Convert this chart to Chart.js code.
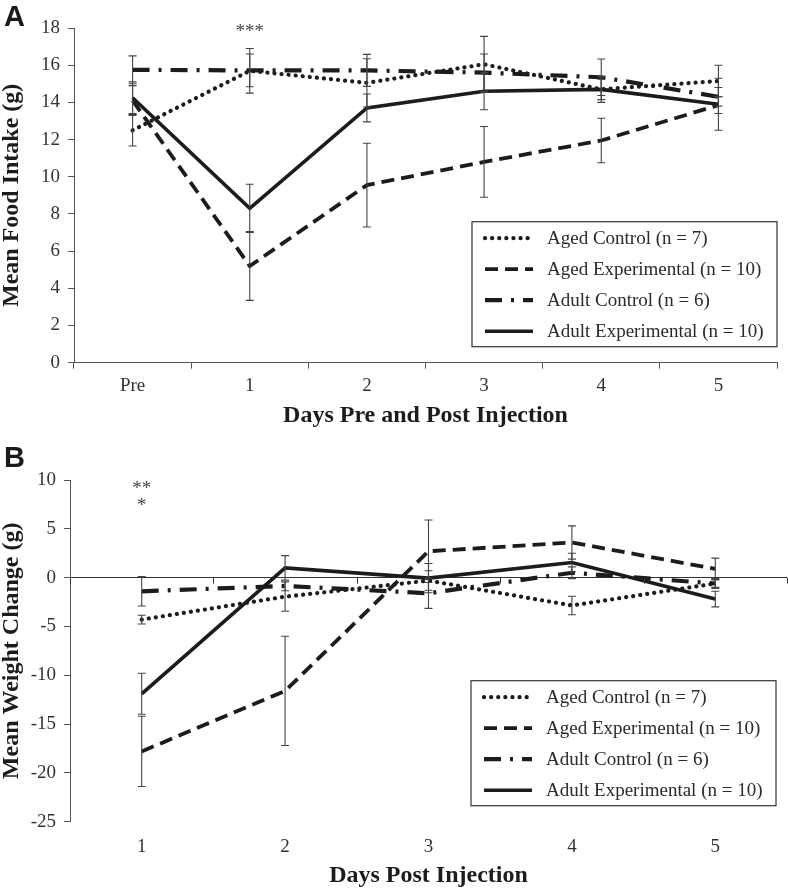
<!DOCTYPE html>
<html>
<head>
<meta charset="utf-8">
<script src="https://cdn.jsdelivr.net/npm/chart.js@4.4.0/dist/chart.umd.min.js"></script>
<style>
	body { margin: 0; background: #fff; }
	#wrap { position: relative; width: 788px; height: 888px; }
	.panel-letter { position: absolute; left: 4px; font: bold 29px 'Liberation Sans', Arial, sans-serif; color: #1a1a1a; line-height: 1; }
	#chart-a { position: absolute; left: 0; top: 0; }
	#chart-b { position: absolute; left: 0; top: 440px; }
</style>
</head>
<body>
<div id="wrap">
	<canvas id="chart-a" width="788" height="430"></canvas>
	<canvas id="chart-b" width="788" height="448"></canvas>
	<div class="panel-letter" style="top:2px">A</div>
	<div class="panel-letter" style="top:443px">B</div>
</div>
<script>
/* ----- Data ----- */

// Panel A - food intake
const daysA = ['Pre', '1', '2', '3', '4', '5'];
const agedControlA = [12.5, 15.7, 15.05, 16.05, 14.7, 15.15];
const agedExpA = [14.1, 5.2, 9.55, 10.8, 11.95, 13.85];
const adultControlA = [15.75, 15.72, 15.72, 15.6, 15.35, 14.3];
const adultExpA = [14.25, 8.3, 13.7, 14.6, 14.7, 13.9];
const agedControlErrA = [0.85, 1.2, 1.3, 1.5, 0.55, 0.85];
const agedExpErrA = [0.8, 1.85, 2.25, 1.9, 1.2, 0.45];
const adultControlErrA = [0.75, 0.88, 0.86, 1.0, 0.98, 0.5];
const adultExpErrA = [0.85, 1.3, 0.75, 1.0, 0.7, 1.4];
const starsA = [{ day: '1', value: 17.8, text: '***' }];

// Panel B - weight change
const daysB = ['1', '2', '3', '4', '5'];
const agedControlB = [-4.3, -1.95, -0.3, -2.85, -0.6];
const agedExpB = [-17.8, -11.6, 2.7, 3.6, 0.9];
const adultControlB = [-1.4, -0.85, -1.6, 0.5, -0.6];
const adultExpB = [-11.9, 1.0, -0.05, 1.55, -2.2];
const agedControlErrB = [0.45, 1.5, 1.0, 0.95, 0.4];
const agedExpErrB = [3.6, 5.6, 3.2, 1.7, 1.1];
const adultControlErrB = [1.5, 0.5, 1.55, 0.6, 0.5];
const adultExpErrB = [2.1, 1.25, 1.5, 0.95, 0.8];
const starsB = [{ day: '1', value: 9.1, text: '**' }, { day: '1', value: 7.3, text: '*' }];

const seriesNames = ['Aged Control (n = 7)', 'Aged Experimental (n = 10)', 'Adult Control (n = 6)', 'Adult Experimental (n = 10)'];

/* ----- Styles ----- */

const serif = "'Liberation Serif', 'Times New Roman', serif";
const ink = '#1c1c1c';
const axisGrey = '#555';

const lineStyles = [
	{ borderWidth: 4.2, borderDash: [0.1, 7], borderCapStyle: 'round' },
	{ borderWidth: 3.8, borderDash: [13, 7], borderCapStyle: 'butt' },
	{ borderWidth: 4.2, borderDash: [17, 9, 3, 9], borderCapStyle: 'butt' },
	{ borderWidth: 3.6, borderDash: [], borderCapStyle: 'butt' }
];

const makeDatasets = (values, errors) => values.map((data, i) => ({
	label: seriesNames[i],
	data: data,
	errors: errors[i],
	borderColor: ink,
	backgroundColor: ink,
	pointRadius: 0,
	tension: 0,
	...lineStyles[i]
}));

/* ----- Plugins ----- */

// Error bars with caps
const errorBars = {
	id: 'errorBars',
	afterDatasetsDraw(chart) {
		const { ctx, scales: { x, y } } = chart;
		ctx.save();
		ctx.strokeStyle = '#444';
		ctx.lineWidth = 1.1;
		chart.data.datasets.forEach(ds => {
			ds.data.forEach((v, i) => {
				const px = x.getPixelForValue(i);
				const top = y.getPixelForValue(v + ds.errors[i]);
				const bot = y.getPixelForValue(v - ds.errors[i]);
				ctx.beginPath();
				ctx.moveTo(px, top); ctx.lineTo(px, bot);
				ctx.moveTo(px - 4, top); ctx.lineTo(px + 4, top);
				ctx.moveTo(px - 4, bot); ctx.lineTo(px + 4, bot);
				ctx.stroke();
			});
		});
		ctx.restore();
	}
};

// Boxed legend inside the plot area
const boxLegend = {
	id: 'boxLegend',
	afterDraw(chart, args, opts) {
		const { ctx, chartArea } = chart;
		const x0 = chartArea.right - opts.right - opts.width;
		const y0 = chartArea.bottom - opts.bottom - opts.height;
		ctx.save();
		ctx.fillStyle = '#fff';
		ctx.fillRect(x0, y0, opts.width, opts.height);
		ctx.strokeStyle = '#333';
		ctx.lineWidth = 1.2;
		ctx.strokeRect(x0, y0, opts.width, opts.height);
		chart.data.datasets.forEach((ds, i) => {
			const ly = y0 + 16.5 + i * 31;
			ctx.beginPath();
			ctx.setLineDash(ds.borderDash);
			ctx.lineCap = ds.borderCapStyle;
			ctx.lineWidth = ds.borderWidth;
			ctx.strokeStyle = ds.borderColor;
			ctx.moveTo(x0 + 13, ly);
			ctx.lineTo(x0 + 61, ly);
			ctx.stroke();
			ctx.setLineDash([]);
			ctx.fillStyle = '#2a2a2a';
			ctx.font = '19px ' + serif;
			ctx.textBaseline = 'middle';
			ctx.textAlign = 'left';
			ctx.fillText(ds.label, x0 + 75, ly + 1);
		});
		ctx.restore();
	}
};

// Significance stars
const stars = {
	id: 'stars',
	afterDraw(chart, args, opts) {
		const { ctx, scales: { x, y } } = chart;
		ctx.save();
		ctx.fillStyle = '#444';
		ctx.font = '19px ' + serif;
		ctx.textAlign = 'center';
		ctx.textBaseline = 'middle';
		opts.items.forEach(s => ctx.fillText(s.text, x.getPixelForValue(x.getLabels().indexOf(s.day)), y.getPixelForValue(s.value)));
		ctx.restore();
	}
};

// Category tick marks on the zero line
const zeroTicks = {
	id: 'zeroTicks',
	afterDraw(chart, args, opts) {
		if (!opts.show) return;
		const { ctx, scales: { x, y } } = chart;
		const y0 = y.getPixelForValue(0);
		ctx.save();
		ctx.strokeStyle = '#333';
		ctx.lineWidth = 1;
		for (let i = 0; i <= x.getLabels().length; i++) {
			const px = Math.round(x.getPixelForValue(i - 0.5)) + 0.5;
			ctx.beginPath();
			ctx.moveTo(px, y0);
			ctx.lineTo(px, y0 + 6);
			ctx.stroke();
		}
		ctx.restore();
	}
};

/* ----- Charts ----- */

const tickFont = { family: serif, size: 19 };
const titleFont = { family: serif, size: 24, weight: 'bold', lineHeight: 1 };

const charts = [];

// Chart A
charts[0] = new Chart(document.getElementById('chart-a'), {
	type: 'line',
	data: {
		labels: daysA,
		datasets: makeDatasets([agedControlA, agedExpA, adultControlA, adultExpA], [agedControlErrA, agedExpErrA, adultControlErrA, adultExpErrA])
	},
	options: {
		responsive: false,
		animation: false,
		events: [],
		layout: { padding: { top: 28, right: 11, bottom: 2, left: 0 } },
		plugins: {
			legend: { display: false },
			tooltip: { enabled: false },
			boxLegend: { right: 0, bottom: 16, width: 305, height: 125 },
			stars: { items: starsA },
			zeroTicks: { show: false }
		},
		scales: {
			x: {
				offset: true,
				grid: { offset: true, drawOnChartArea: false, tickLength: 6, color: axisGrey },
				border: { color: axisGrey },
				ticks: { font: tickFont, color: '#333', padding: 6, maxRotation: 0 },
				title: { display: true, text: 'Days Pre and Post Injection', font: titleFont, color: ink, padding: 0 },
				afterFit: s => { s.height = 65.3; }
			},
			y: {
				min: 0,
				max: 18,
				ticks: { stepSize: 2, font: tickFont, color: '#333', padding: 8 },
				grid: { drawOnChartArea: false, tickLength: 6, color: axisGrey },
				border: { color: axisGrey },
				title: { display: true, text: 'Mean Food Intake (g)', font: titleFont, color: ink, padding: 0 },
				afterFit: s => { s.width = 74; }
			}
		}
	},
	plugins: [errorBars, boxLegend, stars, zeroTicks]
});

// Chart B
charts[1] = new Chart(document.getElementById('chart-b'), {
	type: 'line',
	data: {
		labels: daysB,
		datasets: makeDatasets([agedControlB, agedExpB, adultControlB, adultExpB], [agedControlErrB, agedExpErrB, adultControlErrB, adultExpErrB])
	},
	options: {
		responsive: false,
		animation: false,
		events: [],
		layout: { padding: { top: 40, right: 1, bottom: 0, left: 0 } },
		plugins: {
			legend: { display: false },
			tooltip: { enabled: false },
			boxLegend: { right: 11, bottom: 16, width: 305, height: 125 },
			stars: { items: starsB },
			zeroTicks: { show: true }
		},
		scales: {
			x: {
				offset: true,
				grid: { display: false },
				border: { display: false },
				ticks: { font: tickFont, color: '#333', padding: 6, maxRotation: 0 },
				title: { display: true, text: 'Days Post Injection', font: titleFont, color: ink, padding: 0 },
				afterFit: s => { s.height = 66.3; }
			},
			y: {
				min: -25,
				max: 10,
				ticks: { stepSize: 5, font: tickFont, color: '#333', padding: 8 },
				grid: {
					drawOnChartArea: true,
					tickLength: 6,
					tickColor: axisGrey,
					color: c => (c.tick && c.tick.value === 0) ? '#333' : 'rgba(0,0,0,0)'
				},
				border: { color: axisGrey },
				title: { display: true, text: 'Mean Weight Change (g)', font: titleFont, color: ink, padding: 0 },
				afterFit: s => { s.width = 70; }
			}
		}
	},
	plugins: [errorBars, boxLegend, stars, zeroTicks]
});
</script>
</body>
</html>
